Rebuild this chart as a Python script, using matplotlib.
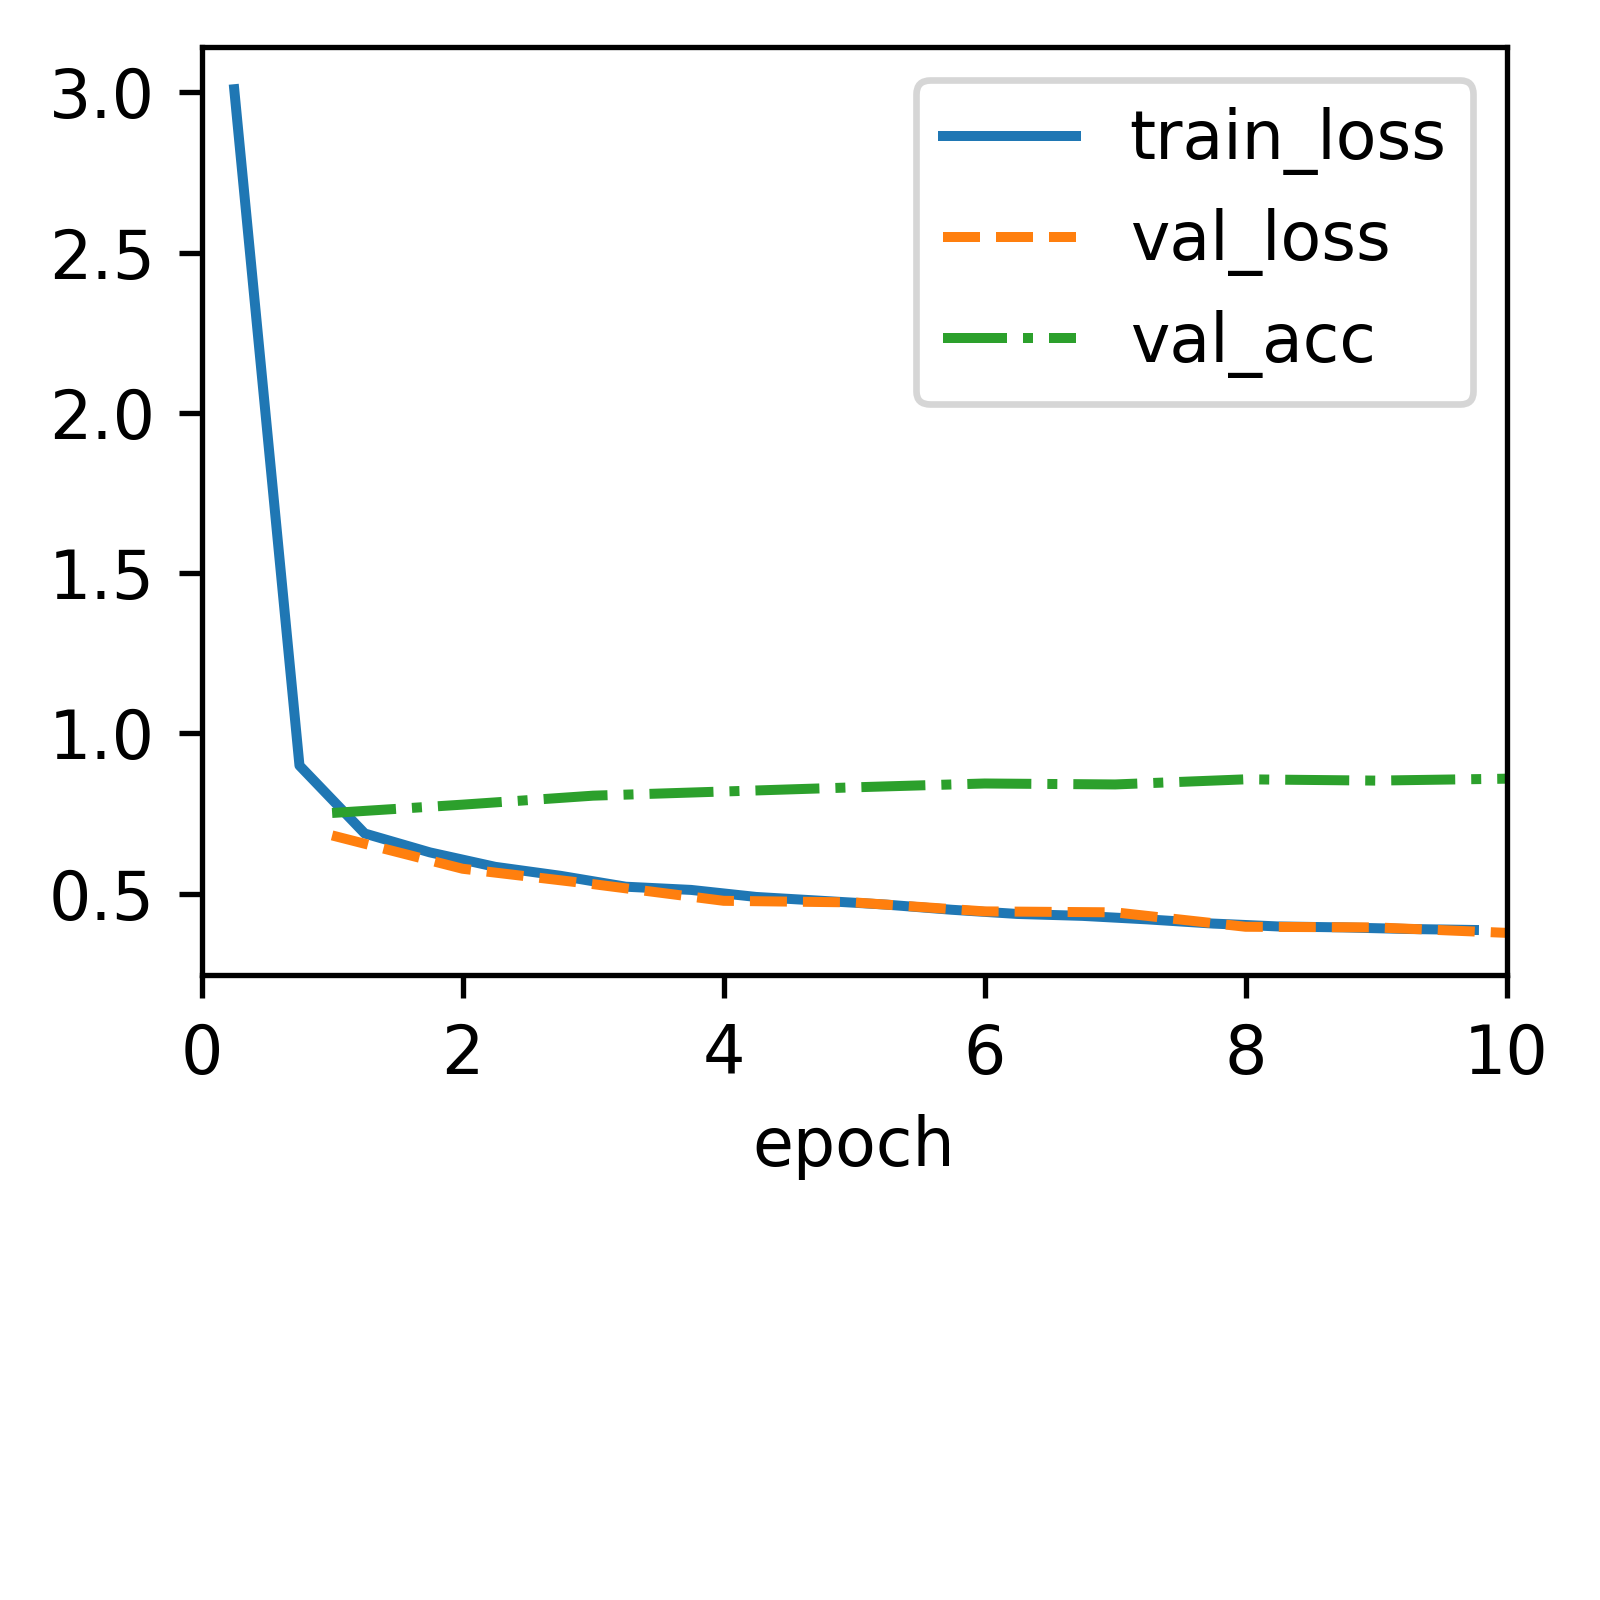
import numpy as np
import matplotlib
matplotlib.use("Agg")
import matplotlib.pyplot as plt

# training curves
train_x = [0.25, 0.75, 1.25, 1.75, 2.25, 2.75, 3.25, 3.75, 4.25, 4.75,
           5.25, 5.75, 6.25, 6.75, 7.25, 7.75, 8.25, 8.75, 9.25, 9.75]
train_loss = [3.01, 0.90, 0.688, 0.629, 0.584, 0.556, 0.522, 0.512, 0.490, 0.478,
              0.466, 0.450, 0.437, 0.431, 0.420, 0.407, 0.398, 0.395, 0.390, 0.387]

val_x = [1, 2, 3, 4, 5, 6, 7, 8, 9, 10]
val_loss = [0.682, 0.578, 0.530, 0.478, 0.473, 0.445, 0.442, 0.397, 0.395, 0.378]
val_acc = [0.752, 0.778, 0.806, 0.819, 0.832, 0.844, 0.841, 0.857, 0.853, 0.859]

xticks = [0, 2, 4, 6, 8, 10]

if __name__ == "__main__":
    dpi = 480
    fig = plt.figure(figsize=(1600 / dpi, 1600 / dpi), dpi=dpi)
    ax = fig.add_axes([0.126, 0.3906, 0.8156, 0.58])

    ax.plot(train_x, train_loss, "-", color="C0", label="train_loss")
    ax.plot(val_x, val_loss, "--", color="C1", label="val_loss")
    ax.plot(val_x, val_acc, "-.", color="C2", label="val_acc")

    ax.set_xlim(0, 10)
    ax.set_xticks(xticks)
    ax.set_xlabel("epoch")
    ax.legend(loc="upper right")

    fig.savefig("out.png", dpi=dpi)
